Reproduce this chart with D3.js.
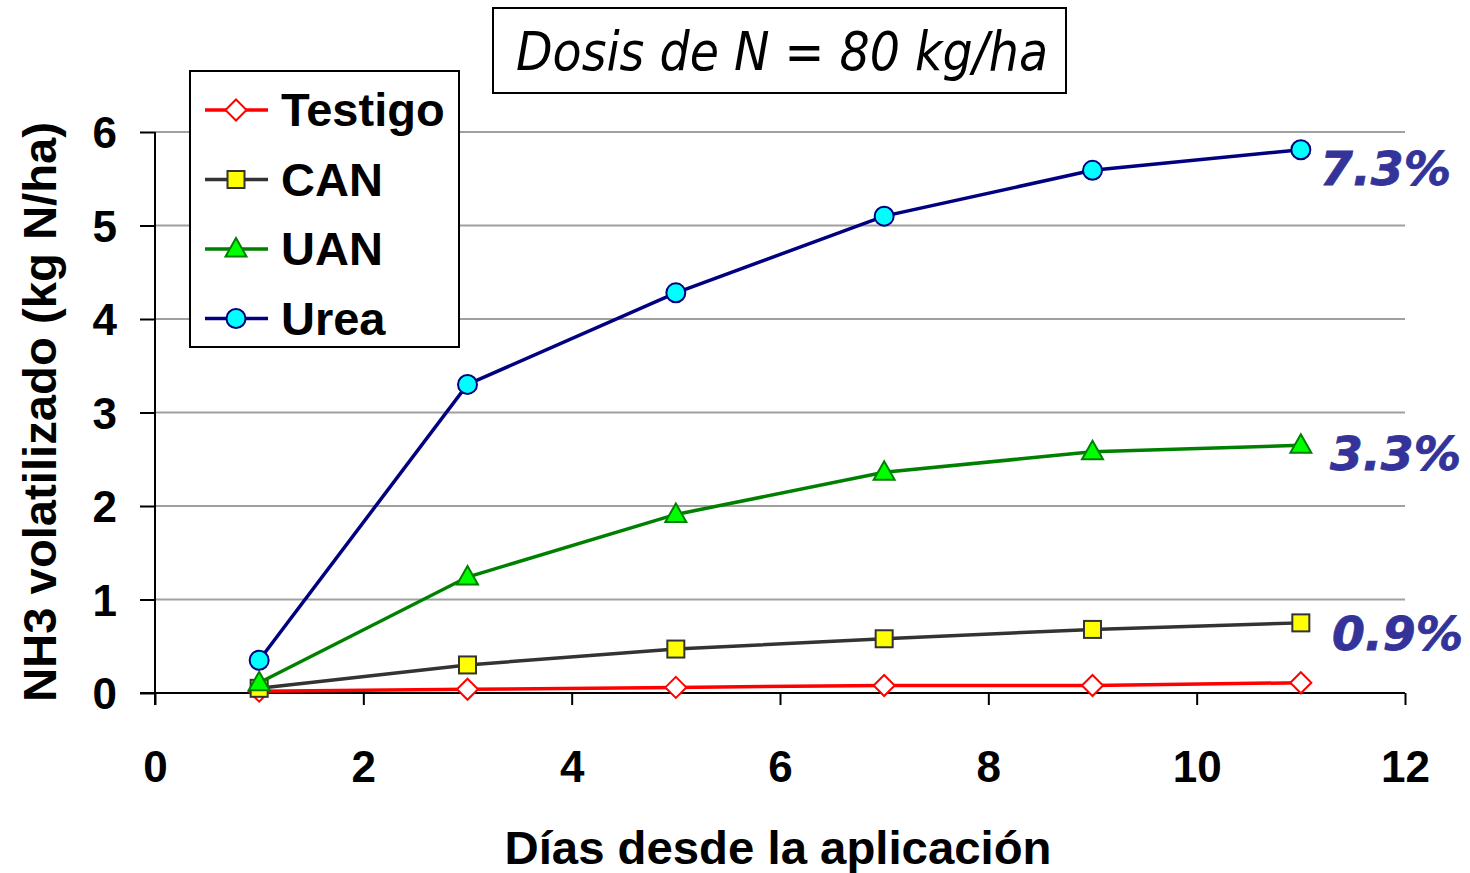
<!DOCTYPE html>
<html><head><meta charset="utf-8">
<script src="https://cdn.jsdelivr.net/npm/d3@7"></script>
<style>body{margin:0;background:#fff;} svg{display:block;}</style>
</head><body>
<script>
const days = [1, 3, 5, 7, 9, 11];
const testigo = [0.02, 0.04, 0.06, 0.08, 0.08, 0.11];
const can = [0.05, 0.30, 0.47, 0.58, 0.68, 0.75];
const uan = [0.11, 1.24, 1.91, 2.36, 2.58, 2.65];
const urea = [0.35, 3.30, 4.28, 5.10, 5.59, 5.81];
const seriesNames = ["Testigo", "CAN", "UAN", "Urea"];
const pctLabels = ["7.3%", "3.3%", "0.9%"];
const pctValues = [5.81, 2.65, 0.75];
const xTicks = [0, 2, 4, 6, 8, 10, 12];
const yTicks = [0, 1, 2, 3, 4, 5, 6];
const title = "Dosis de N = 80 kg/ha";
const xTitle = "Días desde la aplicación";
const yTitle = "NH3 volatilizado (kg N/ha)";

const pctOffsets = [35, 25, 27];
const pctX = [1320, 1330, 1332];

const styles = {
  Testigo: {line:"#ff0000", fill:"#ffffff", stroke:"#ff0000", shape:"diamond"},
  CAN: {line:"#333333", fill:"#ffff00", stroke:"#333333", shape:"square"},
  UAN: {line:"#008000", fill:"#00ff00", stroke:"#008000", shape:"triangle"},
  Urea: {line:"#000080", fill:"#00ffff", stroke:"#000080", shape:"circle"}
};
const dataMap = {Testigo: testigo, CAN: can, UAN: uan, Urea: urea};

const W = 1470, H = 873;
const svg = d3.select("body").append("svg").attr("width", W).attr("height", H);
const x = d3.scaleLinear().domain([0, 12]).range([155, 1405]);
const y = d3.scaleLinear().domain([0, 6]).range([693, 132]);

// gridlines
svg.append("g").selectAll("line").data(yTicks.filter(d => d > 0)).join("line")
  .attr("x1", x(0)).attr("x2", x(12)).attr("y1", d => y(d)).attr("y2", d => y(d))
  .attr("stroke", "#a0a0a0").attr("stroke-width", 2);

const font = "'Liberation Sans', Arial, sans-serif";

// axes
const xAxis = svg.append("g").attr("transform", `translate(0,${y(0)})`)
  .call(d3.axisBottom(x).tickValues(xTicks).tickFormat(d3.format("d")).tickSize(12).tickPadding(46).tickSizeOuter(0));
xAxis.select(".domain").attr("d", `M${x(0)-15},0H${x(12)}`);
const yAxis = svg.append("g").attr("transform", `translate(${x(0)},0)`)
  .call(d3.axisLeft(y).tickValues(yTicks).tickFormat(d3.format("d")).tickSize(15).tickPadding(23).tickSizeOuter(0));
yAxis.select(".domain").attr("d", `M0,${y(6)}V${y(0)+12}`);
[xAxis, yAxis].forEach(a => {
  a.selectAll(".domain").attr("stroke", "#000").attr("stroke-width", 2);
  a.selectAll(".tick line").attr("stroke", "#000").attr("stroke-width", 2);
  a.selectAll(".tick text").attr("font-family", font).attr("font-weight", "bold")
    .attr("font-size", 44).attr("fill", "#000");
});
yAxis.selectAll(".tick text").attr("dy", "0.36em");
xAxis.selectAll(".tick text").attr("dy", "0.71em");

function marker(g, shape, cx, cy, st) {
  let el;
  if (shape === "circle") el = g.append("circle").attr("cx", cx).attr("cy", cy).attr("r", 9.5);
  else if (shape === "square") el = g.append("rect").attr("x", cx-8.5).attr("y", cy-8.5).attr("width", 17).attr("height", 17);
  else if (shape === "triangle") el = g.append("path").attr("d", `M${cx},${cy-11}L${cx+10.5},${cy+7.5}L${cx-10.5},${cy+7.5}Z`);
  else el = g.append("path").attr("d", `M${cx},${cy-10.5}L${cx+10.5},${cy}L${cx},${cy+10.5}L${cx-10.5},${cy}Z`);
  el.attr("fill", st.fill).attr("stroke", st.stroke).attr("stroke-width", 2);
}

const line = d3.line().x(d => x(d[0])).y(d => y(d[1]));
seriesNames.forEach(name => {
  const st = styles[name];
  const pts = days.map((d, i) => [d, dataMap[name][i]]);
  const g = svg.append("g");
  g.append("path").datum(pts).attr("d", line).attr("fill", "none")
    .attr("stroke", st.line).attr("stroke-width", 3.5);
  pts.forEach(p => marker(g, st.shape, x(p[0]), y(p[1]), st));
});

// percent labels
svg.append("g").selectAll("text").data(pctLabels).join("text")
  .attr("x", (d, i) => pctX[i]).attr("y", (d, i) => y(pctValues[i]) + pctOffsets[i])
  .attr("font-family", "'DejaVu Sans', Verdana, sans-serif").attr("font-weight", "bold")
  .attr("font-style", "italic").attr("font-size", 47).attr("fill", "#333399")
  .attr("stroke", "#333399").attr("stroke-width", 0.8)
  .attr("textLength", 131).attr("lengthAdjust", "spacingAndGlyphs")
  .text(d => d);

// legend
const lg = svg.append("g");
lg.append("rect").attr("x", 190).attr("y", 71).attr("width", 269).attr("height", 276)
  .attr("fill", "#fff").attr("stroke", "#000").attr("stroke-width", 2);
seriesNames.forEach((name, i) => {
  const st = styles[name];
  const cy = 110 + i * 69.5;
  lg.append("line").attr("x1", 205).attr("x2", 268).attr("y1", cy).attr("y2", cy)
    .attr("stroke", st.line).attr("stroke-width", 3.5);
  marker(lg, st.shape, 236, cy, st);
  lg.append("text").attr("x", 281).attr("y", cy + 16).attr("font-family", font)
    .attr("font-weight", "bold").attr("font-size", 47).attr("fill", "#000").text(name);
});

// title box
svg.append("rect").attr("x", 493).attr("y", 8).attr("width", 573).attr("height", 85)
  .attr("fill", "#fff").attr("stroke", "#000").attr("stroke-width", 2);
svg.append("text").attr("x", 516).attr("y", 70)
  .attr("font-family", "'DejaVu Sans Condensed', 'DejaVu Sans', sans-serif")
  .attr("font-style", "italic").attr("font-size", 54).attr("fill", "#000")
  .attr("textLength", 532).attr("lengthAdjust", "spacingAndGlyphs").text(title);

// axis titles
svg.append("text").attr("x", 778).attr("y", 864).attr("text-anchor", "middle")
  .attr("font-family", font).attr("font-weight", "bold").attr("font-size", 47)
  .attr("textLength", 547).attr("lengthAdjust", "spacingAndGlyphs")
  .attr("fill", "#000").text(xTitle);
svg.append("text").attr("transform", "translate(56,412) rotate(-90)").attr("text-anchor", "middle")
  .attr("font-family", font).attr("font-weight", "bold").attr("font-size", 47)
  .attr("textLength", 580).attr("lengthAdjust", "spacingAndGlyphs")
  .attr("fill", "#000").text(yTitle);
</script>
</body></html>
